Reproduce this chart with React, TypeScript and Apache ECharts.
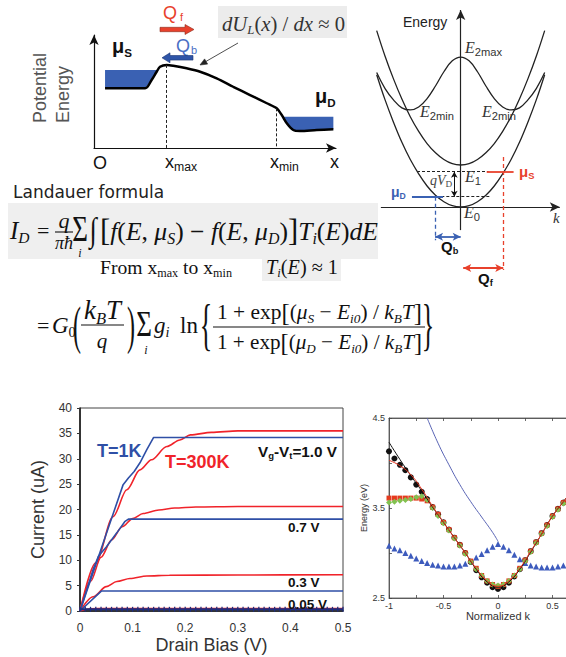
import React, { useEffect, useRef } from 'react';
import * as echarts from 'echarts';

const SERIF = '"Liberation Serif", "Times New Roman", "DejaVu Serif", serif';
const SANS = '"Liberation Sans", Arial, Helvetica, sans-serif';
const VERDANA = '"DejaVu Sans", Verdana, sans-serif';

const IV_BLUE = '#2f4fa6';
const IV_RED = '#f0232a';
const D_RED = '#e8412c';
const D_BLUE = '#3a61b3';

// ---------- Panel A: potential energy profile ----------
const profileX = [0.46, 2.13, 2.4, 2.61, 2.75, 3.03, 3.3, 3.86, 4.42, 5.11, 5.8, 6.5, 7.2, 7.61, 7.82, 8.03, 8.3, 8.58, 9.28, 9.97];
const profileE = [5.28, 5.28, 6.02, 6.75, 7.19, 7.35, 7.28, 7.05, 6.75, 6.17, 5.42, 4.69, 3.96, 3.51, 2.92, 2.19, 1.59, 1.5, 1.59, 1.65];
const sourceFermi = 6.9;
const drainFermi = 2.77;
const xMaxAt = 3.03;
const xMinAt = 7.61;

// ---------- Panel B: subband dispersion ----------
const bandK = [-1, -0.9, -0.8, -0.7, -0.6, -0.5, -0.4, -0.3, -0.2, -0.1, 0, 0.1, 0.2, 0.3, 0.4, 0.5, 0.6, 0.7, 0.8, 0.9, 1];
const bandE0 = [3.15, 2.55, 2.02, 1.54, 1.13, 0.79, 0.5, 0.28, 0.125, 0.03, 0, 0.03, 0.125, 0.28, 0.5, 0.79, 1.13, 1.54, 2.02, 2.55, 3.15];
const bandE1 = [4.2, 3.59, 3.05, 2.57, 2.15, 1.8, 1.51, 1.29, 1.13, 1.03, 1.0, 1.03, 1.13, 1.29, 1.51, 1.8, 2.15, 2.57, 3.05, 3.59, 4.2];
const bandE2 = [3.2, 2.82, 2.55, 2.36, 2.31, 2.38, 2.58, 2.88, 3.22, 3.48, 3.57, 3.48, 3.22, 2.88, 2.58, 2.38, 2.31, 2.36, 2.55, 2.82, 3.2];
const muS = 0.84;
const muD = 0.245;
const kMuS = 0.507;
const kMuD = -0.305;

// ---------- Panel C: I-V curves ----------
const ivBlue10 = [[0, 0], [0.025, 7.6], [0.05, 15.2], [0.082, 24.9], [0.092, 26.2], [0.103, 27.5], [0.114, 29.2], [0.127, 31.8], [0.14, 34.2], [0.5, 34.2]];
const ivRed10 = [[0, 0], [0.03, 9.5], [0.063, 18.6], [0.089, 23.9], [0.114, 27.8], [0.136, 29.8], [0.165, 32.4], [0.19, 33.7], [0.21, 34.7], [0.25, 35.2], [0.3, 35.5], [0.5, 35.5]];
const ivBlue07 = [[0, 0], [0.025, 8.2], [0.035, 10.8], [0.05, 12.6], [0.07, 15.4], [0.085, 17.6], [0.092, 18.1], [0.5, 18.1]];
const ivRed07 = [[0, 0], [0.02, 5.8], [0.04, 10.6], [0.06, 14.0], [0.08, 16.6], [0.1, 18.2], [0.12, 19.2], [0.15, 19.9], [0.18, 20.3], [0.22, 20.5], [0.3, 20.6], [0.5, 20.6]];
const ivBlue03 = [[0, 0], [0.041, 3.95], [0.5, 3.95]];
const ivRed03 = [[0, 0], [0.025, 2.8], [0.05, 4.8], [0.07, 5.8], [0.095, 6.4], [0.127, 6.9], [0.17, 7.05], [0.3, 7.1], [0.5, 7.15]];
const ivRed005 = [[0, 0], [0.02, 0.45], [0.05, 0.5], [0.5, 0.5]];
const ivBlue005V = [0, 0.01, 0.02, 0.03, 0.04, 0.05, 0.06, 0.07, 0.08, 0.09, 0.1, 0.11, 0.12, 0.13, 0.14, 0.15, 0.16, 0.17, 0.18, 0.19, 0.2, 0.21, 0.22, 0.23, 0.24, 0.25, 0.26, 0.27, 0.28, 0.29, 0.3, 0.31, 0.32, 0.33, 0.34, 0.35, 0.36, 0.37, 0.38, 0.39, 0.4, 0.41, 0.42, 0.43, 0.44, 0.45, 0.46, 0.47, 0.48, 0.49, 0.5];
const ivBlue005I = 0.33;
const ivXTicks = [0, 0.1, 0.2, 0.3, 0.4, 0.5];

// ---------- Panel D: E(k) ----------
const ekK = [-1, -0.95, -0.9, -0.85, -0.8, -0.75, -0.7, -0.65, -0.6, -0.55, -0.5, -0.45, -0.4, -0.35, -0.3, -0.25, -0.2, -0.15, -0.1, -0.05, 0, 0.05, 0.1, 0.15, 0.2, 0.25, 0.3, 0.35, 0.4, 0.45, 0.5, 0.55, 0.6];
const ekCircles = [4.13, 4.05, 3.98, 3.92, 3.84, 3.76, 3.68, 3.6, 3.51, 3.43, 3.34, 3.26, 3.17, 3.09, 3.0, 2.9, 2.81, 2.73, 2.67, 2.62, 2.6, 2.62, 2.67, 2.74, 2.82, 2.92, 3.02, 3.12, 3.22, 3.31, 3.41, 3.49, 3.56];
const ekSquares = [3.61, 3.61, 3.61, 3.61, 3.61, 3.61, 3.6, 3.58, 3.51, 3.43, 3.34, 3.26, 3.17, 3.09, 3.0, 2.91, 2.83, 2.75, 2.69, 2.65, 2.63, 2.65, 2.69, 2.75, 2.83, 2.92, 3.02, 3.12, 3.22, 3.31, 3.41, 3.49, 3.56];
const ekDiamonds = [3.56, 3.57, 3.58, 3.59, 3.6, 3.62, 3.63, 3.59, 3.5, 3.41, 3.33, 3.25, 3.16, 3.08, 2.99, 2.9, 2.82, 2.75, 2.69, 2.65, 2.64, 2.65, 2.69, 2.75, 2.82, 2.91, 3.01, 3.11, 3.21, 3.3, 3.4, 3.48, 3.55];
const ekTriangles = [3.08, 3.05, 3.03, 3.0, 2.97, 2.94, 2.91, 2.89, 2.87, 2.86, 2.85, 2.85, 2.85, 2.86, 2.88, 2.91, 2.95, 2.99, 3.03, 3.07, 3.1, 3.07, 3.03, 2.98, 2.93, 2.89, 2.86, 2.85, 2.84, 2.84, 2.84, 2.85, 2.86];
const ekLineK = [-1, -0.9, -0.8, -0.7, -0.6, -0.5, -0.4, -0.3, -0.2, -0.1, 0, 0.1, 0.2, 0.3, 0.4, 0.5, 0.6, 0.7];
const ekBlackLine = [4.23, 4.04, 3.86, 3.69, 3.51, 3.34, 3.17, 3.0, 2.82, 2.68, 2.62, 2.68, 2.82, 3.01, 3.21, 3.41, 3.57, 3.73];
const ekRedLine = [4.03, 3.97, 3.87, 3.71, 3.52, 3.34, 3.17, 3.0, 2.83, 2.69, 2.63, 2.69, 2.83, 3.02, 3.21, 3.41, 3.57, 3.73];
const ekBlueLineK = [-0.65, -0.55, -0.45, -0.35, -0.25, -0.15, -0.05, 0];
const ekBlueLine = [4.5, 4.22, 3.98, 3.76, 3.57, 3.4, 3.23, 3.13];
const ekXLabels = [-1, -0.5, 0, 0.5];
const ekYLabels = [2.5, 3.5, 4.5];

const zip = (xs: number[], ys: number[]) => xs.map((x, i) => [x, ys[i]]);

// ---------- text helpers ----------
let ctx: CanvasRenderingContext2D | null = null;
function measure(text: string, font: string) {
  if (!ctx) ctx = document.createElement('canvas').getContext('2d');
  ctx!.font = font;
  return ctx!.measureText(text).width;
}
type TO = { size?: number; ff?: string; it?: boolean; b?: boolean; c?: string; al?: string; rot?: number; sy?: number };
function txt(x: number, y: number, text: string, o: TO = {}) {
  const al = o.al ?? 'left';
  return {
    type: 'text', x, y, rotation: o.rot ?? 0, scaleY: o.sy ?? 1, silent: true, z: 50,
    style: {
      text, fontSize: o.size ?? 14, fontFamily: o.ff ?? SANS, fontStyle: o.it ? 'italic' : 'normal',
      fontWeight: o.b ? 'bold' : 'normal', fill: o.c ?? '#111',
      textAlign: al, textVerticalAlign: 'middle', align: al, verticalAlign: 'middle',
    },
  };
}
type Seg = { t: string; k?: number; dy?: number; it?: boolean; b?: boolean; ff?: string; c?: string };
const S = (t: string, o: Partial<Seg> = {}): Seg => ({ t, ...o });
const sub = (t: string, o: Partial<Seg> = {}): Seg => ({ t, k: 0.62, dy: 0.3, ...o });
function run(x0: number, x1: number | null, yc: number, base: number, segs: Seg[], d: { ff?: string; c?: string; it?: boolean; b?: boolean } = {}) {
  const items = segs.map((s) => {
    const ff = s.ff ?? d.ff ?? SERIF;
    const it = s.it ?? d.it ?? false;
    const b = s.b ?? d.b ?? false;
    const size = base * (s.k ?? 1);
    const w = measure(s.t, `${it ? 'italic' : 'normal'} ${b ? 'bold' : 'normal'} ${size}px ${ff}`);
    return { s, ff, it, b, size, w };
  });
  const total = items.reduce((a, i) => a + i.w, 0);
  const sc = x1 == null ? 1 : (x1 - x0) / total;
  let x = x0;
  const out: any[] = [];
  for (const i of items) {
    out.push(txt(x, yc + (i.s.dy ?? 0) * base * sc, i.s.t, { size: i.size * sc, ff: i.ff, it: i.it, b: i.b, c: i.s.c ?? d.c }));
    x += i.w * sc;
  }
  return out;
}
const rect = (x: number, y: number, w: number, h: number, fill: string) => ({ type: 'rect', shape: { x, y, width: w, height: h }, style: { fill }, silent: true, z: 1 });
const hline = (x1: number, x2: number, y: number, w = 1.1) => ({ type: 'line', shape: { x1, y1: y, x2, y2: y }, style: { stroke: '#111', lineWidth: w }, silent: true, z: 50 });
const poly = (points: number[][], fill: string, stroke?: string) => ({ type: 'polygon', shape: { points }, style: { fill, stroke: stroke ?? fill, lineWidth: 0.6 }, silent: true, z: 50 });

function buildGraphics() {
  const it = { it: true };
  const numer = (m: string) => [S('1 + exp'), S('[', { k: 1.15 }), S('('), S('μ', it), sub(m, it), S(' − '), S('E', it), sub('i0', it), S(')'), S(' / '), S('k', it), sub('B', it), S('T', it), S(']', { k: 1.15 })];
  return [
    // Panel A labels
    txt(40, 123, 'Potential', { size: 18, c: '#555', rot: Math.PI / 2 }),
    txt(63, 123, 'Energy', { size: 18, c: '#555', rot: Math.PI / 2 }),
    txt(93, 163, 'O', { size: 18 }),
    ...run(165, null, 162, 18, [S('x'), sub('max', { k: 0.68 })], { ff: SANS }),
    ...run(270, null, 162, 18, [S('x'), sub('min', { k: 0.68 })], { ff: SANS }),
    txt(330, 162, 'x', { size: 18 }),
    ...run(112, null, 46, 20, [S('μ', { b: true }), sub('S', { b: true, k: 0.58 })], { ff: SANS }),
    ...run(315, null, 96, 20, [S('μ', { b: true }), sub('D', { b: true, k: 0.58 })], { ff: SANS }),
    txt(163, 13, 'Q', { size: 18, c: D_RED }),
    txt(180, 17, 'f', { size: 11, c: D_RED }),
    txt(176, 46, 'Q', { size: 18, c: '#4a6fc4' }),
    txt(191, 50, 'b', { size: 11, c: '#4a6fc4' }),
    poly([[160, 27.3], [185, 27.3], [185, 24.5], [194, 29.5], [185, 34.5], [185, 31.7], [160, 31.7]], D_RED, '#8a2b1c'),
    poly([[193, 55.5], [170, 55.5], [170, 52.8], [162, 57.8], [170, 62.8], [170, 60.1], [193, 60.1]], '#2f55a8', '#1d3672'),
    rect(218, 6, 129, 32, '#ececec'),
    ...run(222, 345, 24, 20, [S('dU', it), sub('L', it), S('('), S('x', it), S(') / '), S('dx', it), S(' ≈ 0')], { c: '#333' }),
    { type: 'line', shape: { x1: 238, y1: 43, x2: 205, y2: 62 }, style: { stroke: '#222', lineWidth: 0.8 }, silent: true, z: 50 },
    poly([[200, 65], [207.6, 64.1], [204.6, 58.9]], '#222'),

    // Panel B labels
    txt(403, 22, 'Energy', { size: 14, c: '#222' }),
    ...run(465, null, 47, 16, [S('E', it), sub('2max', { ff: SANS, k: 0.7 })], { c: '#333' }),
    ...run(420, null, 111, 16, [S('E', it), sub('2min', { ff: SANS, k: 0.7 })], { c: '#333' }),
    ...run(482, null, 111, 16, [S('E', it), sub('2min', { ff: SANS, k: 0.7 })], { c: '#333' }),
    ...run(465, null, 176, 16, [S('E', it), sub('1', { ff: SANS, k: 0.7 })], { c: '#333' }),
    ...run(464, null, 212, 16, [S('E', it), sub('0', { ff: SANS, k: 0.7 })], { c: '#333' }),
    ...run(430, null, 180, 14, [S('qV', it), sub('D', { k: 0.66 })], { c: '#444' }),
    ...run(519, null, 171, 15, [S('μ', { b: true }), sub('S', { b: true })], { ff: SANS, c: D_RED }),
    ...run(391, null, 192, 14, [S('μ', { b: true }), sub('D', { b: true })], { ff: SANS, c: D_BLUE }),
    ...run(441, null, 246, 15, [S('Q', { b: true }), sub('b', { b: true })], { ff: SANS, c: '#111' }),
    ...run(478, null, 278, 15, [S('Q', { b: true }), sub('f', { b: true })], { ff: SANS, c: '#111' }),
    txt(553, 218, 'k', { size: 15, ff: SERIF, it: true, c: '#333' }),

    // Landauer formula
    txt(13, 192, 'Landauer formula', { size: 17, ff: VERDANA, c: '#222' }),
    rect(8, 203, 370, 56, '#efefef'),
    ...run(10, null, 230, 25, [S('I', it), sub('D', it)]),
    txt(37, 230, '=', { size: 22, ff: SERIF }),
    txt(64, 220, 'q', { size: 22, ff: SERIF, it: true, al: 'center' }),
    hline(55, 73, 232),
    txt(64, 243, 'πħ', { size: 18, ff: SERIF, it: true, al: 'center' }),
    txt(80, 229, 'Σ', { size: 27, ff: SERIF, al: 'center', sy: 1.3 }),
    txt(80, 253, 'i', { size: 12, ff: SERIF, it: true, al: 'center' }),
    txt(93, 230, '∫', { size: 26, ff: SERIF, al: 'center', sy: 1.3 }),
    ...run(100, 378, 231, 25, [S('[', { k: 1.2 }), S('f', it), S('('), S('E', it), S(', '), S('μ', it), sub('S', it), S(')'), S(' − '), S('f', it), S('('), S('E', it), S(', '), S('μ', it), sub('D', it), S(')'), S(']', { k: 1.2 }), S('T', it), sub('i', it), S('('), S('E', it), S(')'), S('dE', it)]),
    ...run(100, 232, 267, 20, [S('From x'), sub('max'), S(' to x'), sub('min')]),
    rect(262, 254, 79, 27, '#efefef'),
    ...run(266, 338, 267, 22, [S('T', it), sub('i', it), S('('), S('E', it), S(') ≈ 1')]),

    txt(37, 325, '=', { size: 22, ff: SERIF }),
    ...run(52, null, 325, 23, [S('G', it), sub('0')]),
    txt(77, 325, '(', { size: 24, ff: SERIF, al: 'center', sy: 2.2 }),
    ...run(84, 121, 310, 21, [S('k', it), sub('B', it), S('T', it)]),
    hline(81, 124, 325),
    txt(102, 341, 'q', { size: 21, ff: SERIF, it: true, al: 'center' }),
    txt(131, 325, ')', { size: 24, ff: SERIF, al: 'center', sy: 2.2 }),
    txt(144, 324, 'Σ', { size: 27, ff: SERIF, al: 'center', sy: 1.3 }),
    txt(146, 350, 'i', { size: 12, ff: SERIF, it: true, al: 'center' }),
    ...run(154, null, 325, 23, [S('g', it), sub('i', it)]),
    txt(180, 325, 'ln', { size: 23, ff: SERIF }),
    txt(206, 325, '{', { size: 26, ff: SERIF, al: 'center', sy: 2.2 }),
    ...run(217, 422, 312, 23, numer('S')),
    hline(213, 425, 327),
    ...run(217, 422, 342, 23, numer('D')),
    txt(428, 325, '}', { size: 26, ff: SERIF, al: 'center', sy: 2.2 }),

    // Panel C labels
    txt(97, 451, 'T=1K', { size: 18, b: true, c: IV_BLUE }),
    txt(165, 462, 'T=300K', { size: 18, b: true, c: IV_RED }),
    ...run(258, 337, 451, 14, [S('V'), sub('g'), S('-V'), sub('t'), S('=1.0 V')], { ff: SANS, b: true, c: '#111' }),
    txt(288, 527, '0.7 V', { size: 13.5, b: true }),
    txt(288, 582, '0.3 V', { size: 13.5, b: true }),
    txt(288, 604, '0.05 V', { size: 13.5, b: true }),
  ];
}

// polygons for Fermi seas
const crossAt = (j: number, lvl: number) => {
  const t = (lvl - profileE[j]) / (profileE[j + 1] - profileE[j]);
  return profileX[j] + t * (profileX[j + 1] - profileX[j]);
};
function fermiPolys() {
  const cs = crossAt(3, sourceFermi);
  const src = [[profileX[0], sourceFermi], [cs, sourceFermi], ...[3, 2, 1, 0].map((i) => [profileX[i], profileE[i]])];
  const cd = crossAt(14, drainFermi);
  const drn = [[cd, drainFermi], [profileX[19], drainFermi], ...[19, 18, 17, 16, 15].map((i) => [profileX[i], profileE[i]])];
  return [src, drn];
}
const polySeries = (pts: number[][], color: string) => ({
  type: 'custom', xAxisIndex: 0, yAxisIndex: 0, data: [[pts[0][0], pts[0][1]]], silent: true, z: 1,
  renderItem: (_p: any, api: any) => ({ type: 'polygon', shape: { points: pts.map((p) => api.coord(p)) }, style: { fill: color } }),
});
const ml = (xi: number, lines: number[][][], color: string, width: number, type: any, symbol: string[], size: any = 7) => ({
  type: 'line', xAxisIndex: xi, yAxisIndex: xi, data: [], silent: true,
  markLine: {
    silent: true, symbol, symbolSize: size, label: { show: false }, emphasis: { disabled: true },
    lineStyle: { color, width, type, opacity: 1 },
    data: lines.map(([a, b]) => [{ coord: a }, { coord: b }]),
  },
});
const hidden = (gi: number, min: number, max: number) => ({ type: 'value', gridIndex: gi, min, max, show: false });
const ivLine = (data: number[][], color: string, smooth: any = false) => ({
  type: 'line', xAxisIndex: 2, yAxisIndex: 2, data, symbol: 'none', smooth, smoothMonotone: 'x', lineStyle: { color, width: 1.6 }, silent: true,
});
const bandLine = (vals: number[]) => ({
  type: 'line', xAxisIndex: 1, yAxisIndex: 1, data: zip(bandK, vals), symbol: 'none', smooth: 0.4, lineStyle: { color: '#222', width: 1.3 }, silent: true,
});
const ekScatter = (vals: number[], symbol: string, size: number, color: string) => ({
  type: 'scatter', xAxisIndex: 3, yAxisIndex: 3, data: zip(ekK, vals), symbol, symbolSize: size, itemStyle: { color, opacity: 1 }, silent: true,
});
const ekLine = (ks: number[], vals: number[], color: string, w: number) => ({
  type: 'line', xAxisIndex: 3, yAxisIndex: 3, data: zip(ks, vals), symbol: 'none', smooth: true, lineStyle: { color, width: w }, silent: true, z: 5,
});

function buildOption() {
  const [srcPoly, drnPoly] = fermiPolys();
  const arrowAxis = { show: true, lineStyle: { color: '#111', width: 1.2 }, symbol: ['none', 'arrow'], symbolSize: [7, 10] };
  const ekTick = { show: true, inside: true, length: 3, lineStyle: { color: '#444', width: 0.8 } };
  const ekLineAxis = { show: true, onZero: false, lineStyle: { color: '#444', width: 0.8 } };
  return {
    animation: false,
    backgroundColor: '#fff',
    textStyle: { fontFamily: SANS },
    grid: [
      { left: 94, top: 35, width: 242, height: 113, outerBoundsMode: 'none' },
      { left: 375, top: 10, width: 184.8, height: 264.2, outerBoundsMode: 'none' },
      { left: 80, top: 408, width: 263, height: 203, show: true, borderColor: '#444', borderWidth: 1, backgroundColor: 'transparent', outerBoundsMode: 'none' },
      { left: 389, top: 418, width: 218, height: 180, show: true, borderColor: '#555', borderWidth: 0.8, backgroundColor: 'transparent', outerBoundsMode: 'none' },
    ],
    xAxis: [
      { type: 'value', gridIndex: 0, min: 0, max: 10.08, axisLine: arrowAxis, axisTick: { show: false }, axisLabel: { show: false }, splitLine: { show: false } },
      hidden(1, -1.02, 1.18),
      {
        type: 'value', gridIndex: 2, min: 0, max: 0.5, interval: 0.1,
        axisLine: { show: true, onZero: false, lineStyle: { color: '#111', width: 1.5 } }, axisTick: { show: false }, splitLine: { show: false },
        axisLabel: { fontSize: 12, color: '#333', margin: 11, fontFamily: SANS, formatter: (v: number) => { const t = ivXTicks.find((q) => Math.abs(q - v) < 1e-9); return t === 0 ? '0' : t != null ? t.toFixed(1) : ''; } },
        name: 'Drain Bias (V)', nameLocation: 'middle', nameGap: 25, nameTextStyle: { fontSize: 18, color: '#333', fontFamily: SANS },
      },
      {
        type: 'value', gridIndex: 3, min: -1, max: 1, interval: 0.25, position: 'bottom',
        axisLine: ekLineAxis, axisTick: ekTick, splitLine: { show: false },
        axisLabel: { fontSize: 9, color: '#333', margin: 3, formatter: (v: number) => (ekXLabels.some((q) => Math.abs(q - v) < 1e-9) ? String(v) : '') },
        name: 'Normalized k', nameLocation: 'middle', nameGap: 11, nameTextStyle: { fontSize: 11, color: '#333' },
      },
      {
        type: 'value', gridIndex: 3, min: -1, max: 1, interval: 0.25, position: 'top',
        axisLine: ekLineAxis, axisTick: ekTick, axisLabel: { show: false }, splitLine: { show: false },
      },
    ],
    yAxis: [
      { type: 'value', gridIndex: 0, min: 0, max: 10, axisLine: arrowAxis, axisTick: { show: false }, axisLabel: { show: false }, splitLine: { show: false } },
      hidden(1, -1.6, 4.69),
      {
        type: 'value', gridIndex: 2, min: 0, max: 40, interval: 5,
        axisLine: { show: true, onZero: false, lineStyle: { color: '#111', width: 1.5 } },
        axisTick: { show: true, length: 3, lineStyle: { color: '#333' } }, splitLine: { show: false },
        axisLabel: { fontSize: 12, color: '#333', margin: 8, fontFamily: SANS },
        name: 'Current (uA)', nameLocation: 'middle', nameRotate: 90, nameGap: 33, nameTextStyle: { fontSize: 18, color: '#333', fontFamily: SANS },
      },
      {
        type: 'value', gridIndex: 3, min: 2.5, max: 4.5, interval: 0.5,
        axisLine: ekLineAxis, axisTick: ekTick, splitLine: { show: false },
        axisLabel: { fontSize: 9, color: '#333', margin: 4, formatter: (v: number) => (ekYLabels.some((q) => Math.abs(q - v) < 1e-9) ? v.toFixed(1) : '') },
        name: 'Energy (eV)', nameLocation: 'middle', nameRotate: 90, nameGap: 19, nameTextStyle: { fontSize: 9, color: '#333' },
      },
    ],
    series: [
      // Panel A
      polySeries(srcPoly, D_BLUE),
      polySeries(drnPoly, D_BLUE),
      { type: 'line', xAxisIndex: 0, yAxisIndex: 0, data: zip(profileX, profileE), symbol: 'none', smooth: 0.3, lineStyle: { color: '#000', width: 2.5 }, silent: true, z: 3 },
      ml(0, [[[xMaxAt, 7.35], [xMaxAt, 0]], [[xMinAt, 3.51], [xMinAt, 0]]], '#222', 1, [3, 2], ['none', 'none']),
      // Panel B
      bandLine(bandE0),
      bandLine(bandE1),
      bandLine(bandE2),
      ml(1, [[[0, -0.55], [0, 4.69]], [[-0.95, 0], [1.18, 0]]], '#222', 1.2, 'solid', ['none', 'arrow'], [7, 10]),
      ml(1, [[[-0.52, muS], [0.33, muS]], [[-0.29, muD], [0.35, muD]]], '#222', 1, [3, 2], ['none', 'none']),
      ml(1, [[[0.31, muS], [0.63, muS]]], D_RED, 1.8, 'solid', ['none', 'none']),
      ml(1, [[[-0.58, muD], [-0.21, muD]]], D_BLUE, 1.8, 'solid', ['none', 'none']),
      ml(1, [[[kMuS, 1.19], [kMuS, -1.5]]], D_RED, 1.3, [4, 3], ['none', 'none']),
      ml(1, [[[kMuD, muD], [kMuD, -0.79]]], D_BLUE, 1.3, [4, 3], ['none', 'none']),
      ml(1, [[[kMuD, -0.707], [0, -0.707]]], D_BLUE, 1.8, 'solid', ['arrow', 'arrow'], [6, 8]),
      ml(1, [[[0.03, -1.45], [kMuS, -1.45]]], D_RED, 1.8, 'solid', ['arrow', 'arrow'], [6, 8]),
      ml(1, [[[-0.076, muS], [-0.076, muD]]], '#111', 1, 'solid', ['arrow', 'arrow'], [5, 6]),
      // Panel C
      ivLine(ivRed10, IV_RED, 0.3),
      ivLine(ivRed07, IV_RED, 0.3),
      ivLine(ivRed03, IV_RED, 0.3),
      ivLine(ivRed005, IV_RED, 0.3),
      ivLine(ivBlue10, IV_BLUE),
      ivLine(ivBlue07, IV_BLUE),
      ivLine(ivBlue03, IV_BLUE),
      {
        type: 'line', xAxisIndex: 2, yAxisIndex: 2, data: ivBlue005V.map((v) => [v, ivBlue005I]), symbol: 'rect', symbolSize: [1.3, 5],
        showSymbol: true, showAllSymbol: true, itemStyle: { color: '#1f2d7e' }, lineStyle: { color: '#1f2d7e', width: 2 }, silent: true, z: 4,
      },
      // Panel D
      ekLine(ekBlueLineK, ekBlueLine, '#5964b4', 1),
      ekScatter(ekTriangles, 'triangle', 6, '#3d5bbd'),
      ekScatter(ekCircles, 'circle', 6, '#111'),
      ekScatter(ekSquares, 'rect', 5, '#e53a1e'),
      ekScatter(ekDiamonds, 'diamond', 6, '#82c250'),
      ekLine(ekLineK, ekBlackLine, '#111', 1),
      ekLine(ekLineK, ekRedLine, '#e8351f', 1),
    ],
    graphic: { elements: buildGraphics() },
  };
}

export default function App() {
  const ref = useRef<HTMLDivElement>(null);
  useEffect(() => {
    const chart = echarts.init(ref.current!, null, { renderer: 'svg' });
    chart.setOption(buildOption() as any);
    return () => chart.dispose();
  }, []);
  return <div ref={ref} style={{ position: 'fixed', left: 0, top: 0, width: 566, height: 657, background: '#fff' }} />;
}
